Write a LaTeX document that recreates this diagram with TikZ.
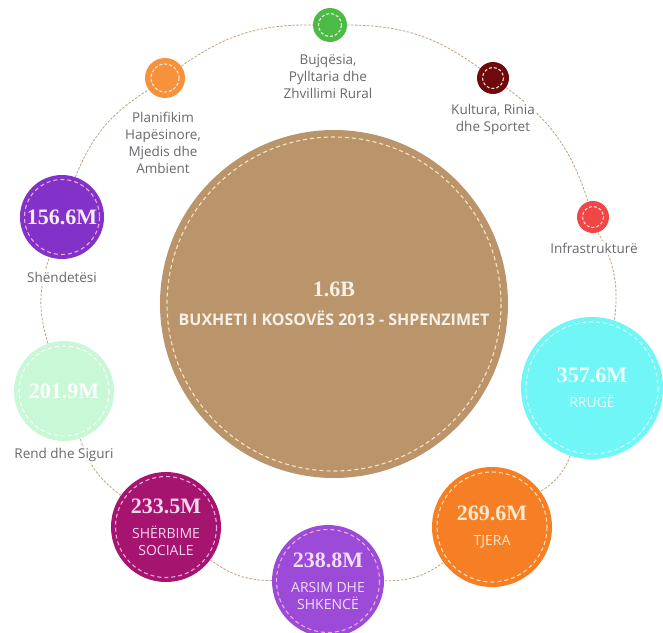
\documentclass[tikz,border=0pt]{standalone}
\usepackage{fontspec}
\setmainfont{Open Sans}
\newfontfamily\numfont{Liberation Serif}
\definecolor{bigc}{RGB}{186,149,108}
\definecolor{bigst}{RGB}{250,228,185}
\definecolor{ringc}{RGB}{190,162,125}
\definecolor{lblc}{RGB}{105,105,110}
\definecolor{greenc}{RGB}{78,186,70}
\definecolor{orsmall}{RGB}{247,146,60}
\definecolor{darkred}{RGB}{110,10,10}
\definecolor{redc}{RGB}{240,70,70}
\definecolor{purpa}{RGB}{130,50,200}
\definecolor{ltgreen}{RGB}{200,248,214}
\definecolor{magc}{RGB}{165,20,110}
\definecolor{purpb}{RGB}{155,75,215}
\definecolor{orbig}{RGB}{246,126,36}
\definecolor{cyanc}{RGB}{112,246,246}
\definecolor{pinkst}{RGB}{240,170,225}
\definecolor{creamst}{RGB}{253,225,180}
\begin{document}
\begin{tikzpicture}[x=1pt,y=-1pt,
  bub/.style={circle, inner sep=0pt, align=center, text=white,
    font=\fontsize{14}{17}\selectfont},
  stitch/.style={line width=1.1pt, dash pattern=on 4pt off 3pt},
  ringline/.style={draw=ringc, line width=0.8pt, dash pattern=on 2.5pt off 1.5pt},
  lbl/.style={font=\fontsize{13.5}{17}\selectfont, text=lblc, fill=white,
    inner sep=1.5pt, align=center}]
\newcommand\numtxt[1]{{\numfont\bfseries\fontsize{22}{22}\selectfont #1}}
\useasboundingbox (0,0) rectangle (663,632);

% central circle
\node[bub, fill=bigc, minimum size=348pt, font=\bfseries\fontsize{16}{19}\selectfont,
  text={rgb,255:red,245;green,240;blue,232}] (big) at (334,304)
  {\numtxt{1.6B}\\[10pt]BUXHETI I KOSOVËS 2013 - SHPENZIMET};
\draw[stitch, bigst] (big.center) circle (167);

% small circles
\node[bub, fill=greenc, minimum size=34pt] (bq) at (330,25) {};
\draw[stitch, white!85!greenc, dash pattern=on 3pt off 2pt] (bq.center) circle (11.5);
\node[bub, fill=darkred, minimum size=32pt] (ku) at (493,78) {};
\draw[stitch, white!85!darkred, dash pattern=on 3pt off 2pt] (ku.center) circle (10.5);
\node[bub, fill=redc, minimum size=32pt] (in) at (593,217) {};
\draw[stitch, white!80!redc, dash pattern=on 3pt off 2pt] (in.center) circle (10.5);
\node[bub, fill=orsmall, minimum size=40pt] (pl) at (165,78) {};
\draw[stitch, white!80!orsmall, dash pattern=on 3pt off 2pt] (pl.center) circle (14);

% value circles
\node[bub, fill=purpa, minimum size=84pt, text={rgb,255:red,245;green,235;blue,250}] (sh) at (62,217) {\numtxt{156.6M}};
\draw[stitch, pinkst] (sh.center) circle (37.5);
\node[bub, fill=ltgreen, minimum size=100pt] (rs) at (64,391) {\numtxt{201.9M}};
\draw[stitch, white] (rs.center) circle (45);
\node[bub, fill=magc, minimum size=110pt, text={rgb,255:red,246;green,215;blue,234}] (ss) at (166,527)
  {\numtxt{233.5M}\\[8pt]SHËRBIME\\SOCIALE};
\draw[stitch, pinkst] (ss.center) circle (50.5);
\node[bub, fill=purpb, minimum size=112pt, text={rgb,255:red,242;green,222;blue,247}] (as) at (328,581)
  {\numtxt{238.8M}\\[8pt]ARSIM DHE\\SHKENCË};
\draw[stitch, pinkst] (as.center) circle (51.5);
\node[bub, fill=orbig, minimum size=120pt, text={rgb,255:red,253;green,232;blue,208}] (tj) at (492,527)
  {\numtxt{269.6M}\\[8pt]TJERA};
\draw[stitch, creamst] (tj.center) circle (55);
\node[bub, fill=cyanc, minimum size=142pt, text={rgb,255:red,235;green,255;blue,255}] (rr) at (592,388)
  {\numtxt{357.6M}\\[8pt]RRUGË};
\draw[stitch, white!70!cyanc] (rr.center) circle (66);

% ring connectors
\draw[ringline] (bq) to[bend left=18] (ku);
\draw[ringline] (ku) to[bend left=18] (in);
\draw[ringline] (in) to[bend left=18] (rr);
\draw[ringline] (rr) to[bend left=18] (tj);
\draw[ringline] (tj) to[bend left=18] (as);
\draw[ringline] (as) to[bend left=18] (ss);
\draw[ringline] (ss) to[bend left=18] (rs);
\draw[ringline] (rs) to[bend left=18] (sh);
\draw[ringline] (sh) to[bend left=18] (pl);
\draw[ringline] (pl) to[bend left=18] (bq);

% labels
\node[lbl] (lbq) at (328,77) {Bujqësia,\\Pylltaria dhe\\Zhvillimi Rural};
\node[lbl] (lku) at (493,119) {Kultura, Rinia\\dhe Sportet};
\node[lbl] (lin) at (594,248) {Infrastrukturë};
\node[lbl] (lpl) at (163,143) {Planifikim\\Hapësinore,\\Mjedis dhe\\Ambient};
\node[lbl] (lsh) at (62,277) {Shëndetësi};
\node[lbl] (lrs) at (64,455) {Rend dhe Siguri};
\end{tikzpicture}
\end{document}
